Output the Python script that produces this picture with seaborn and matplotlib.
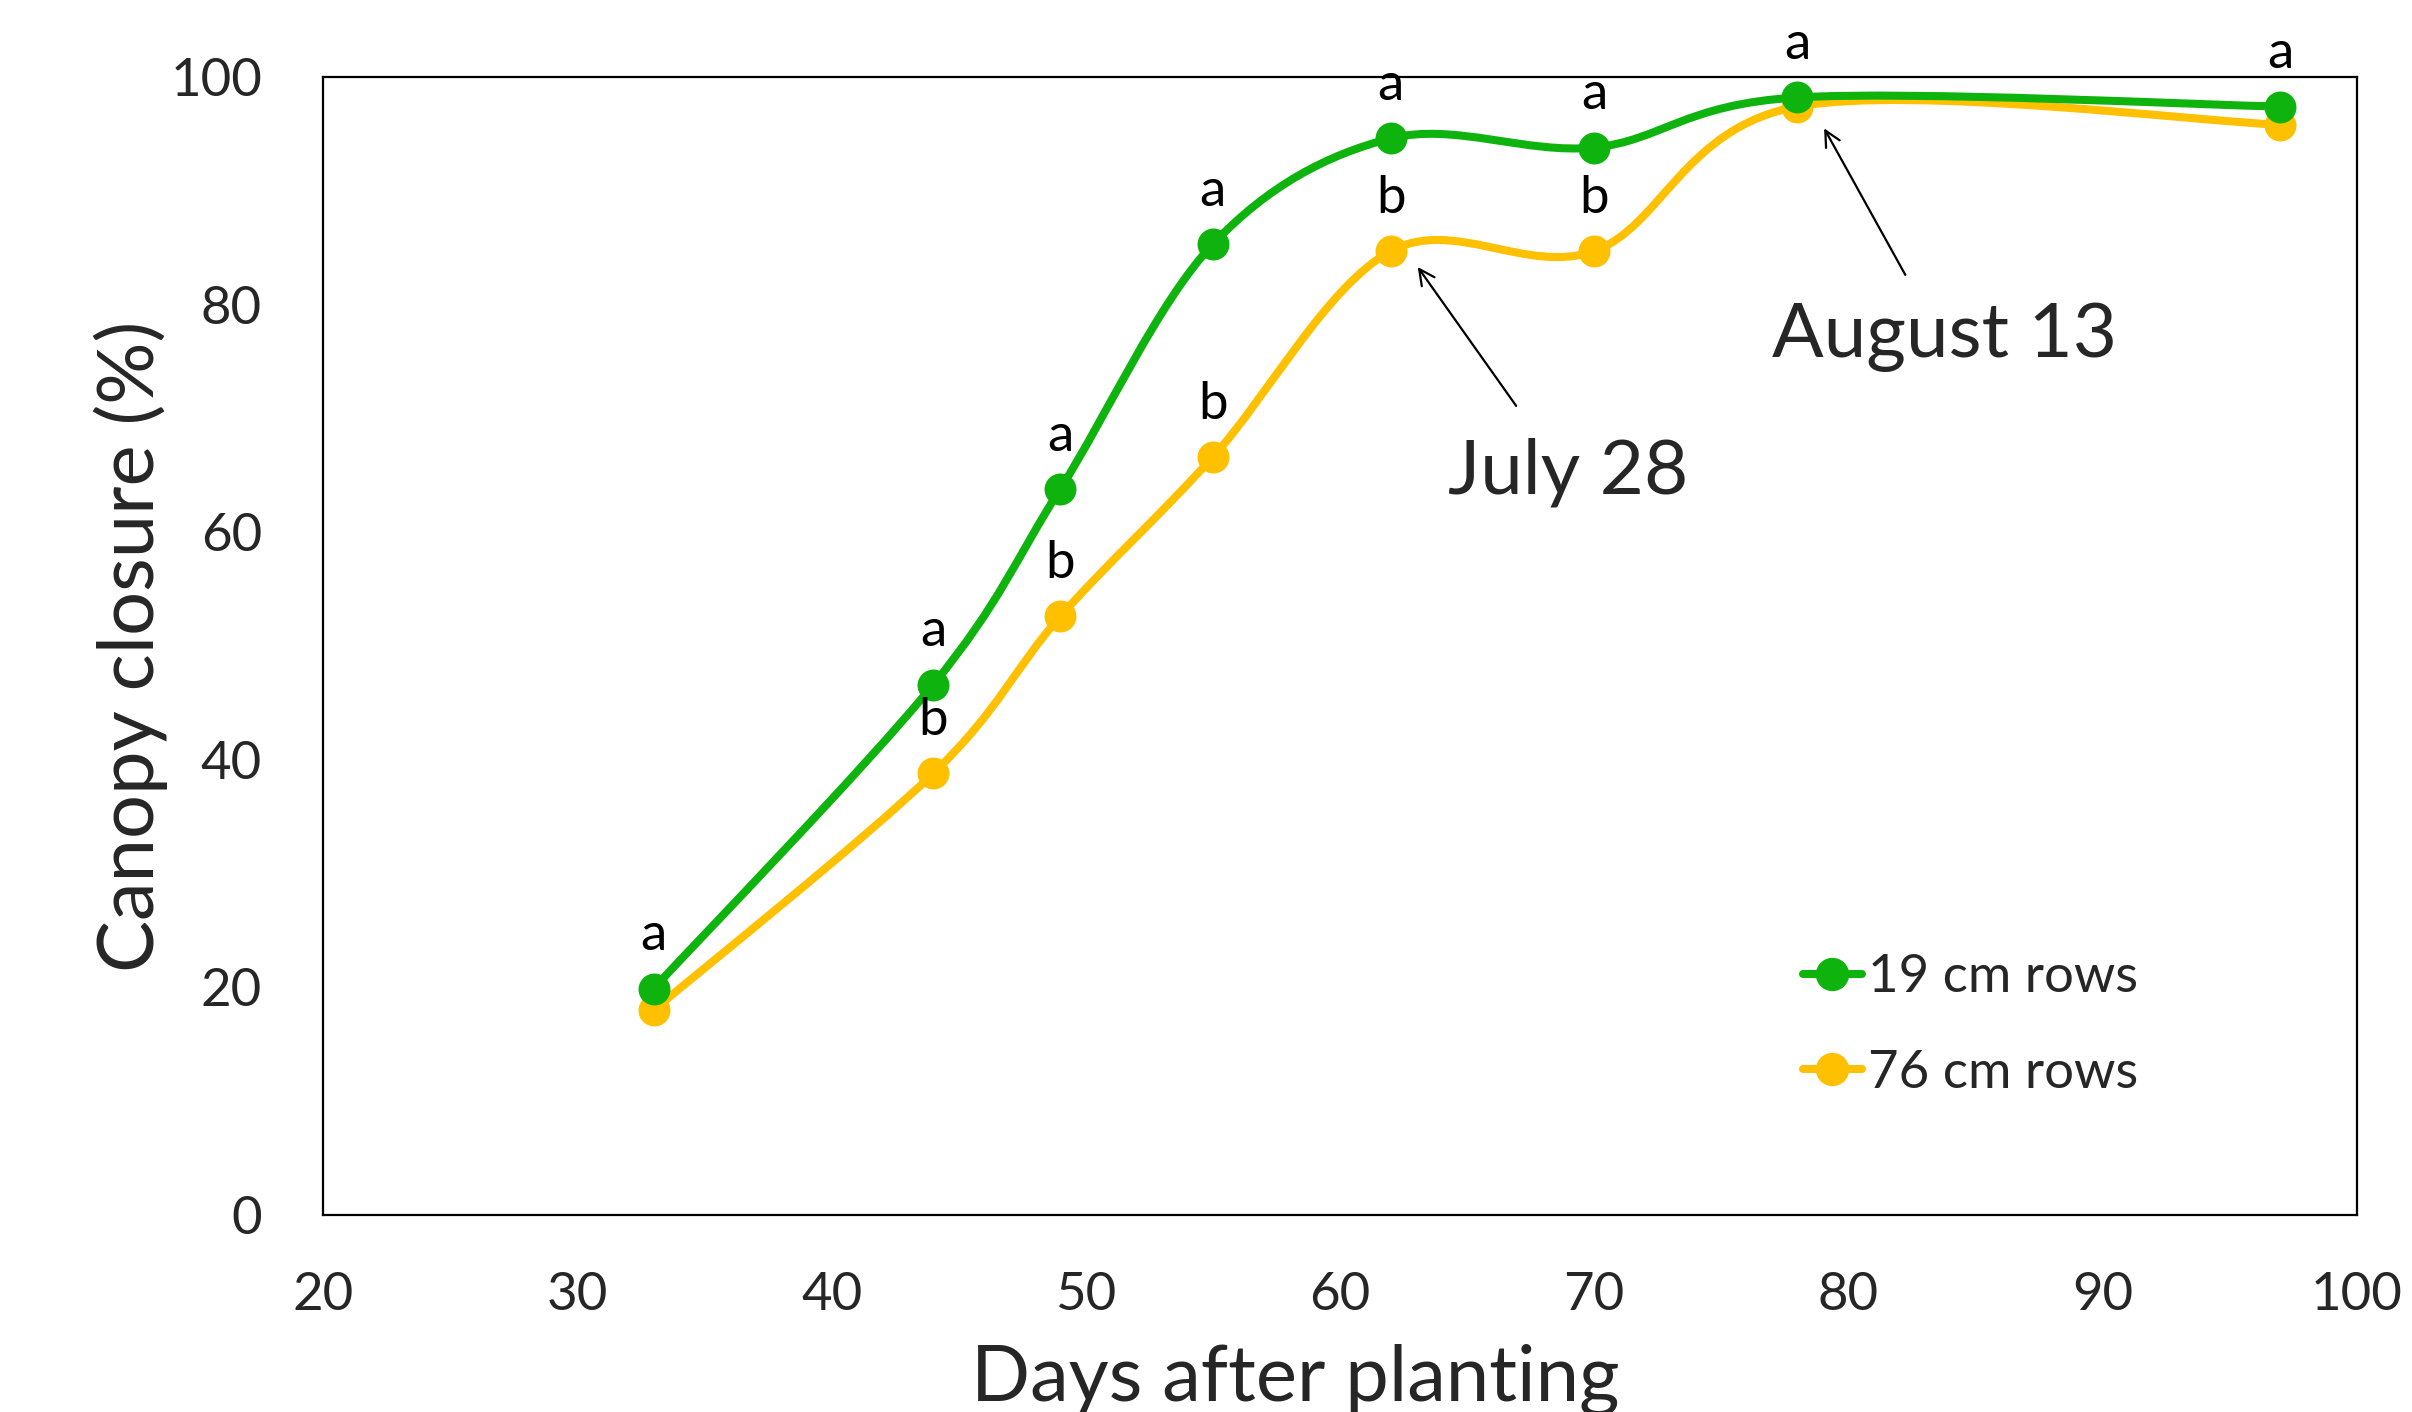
import numpy as np
import matplotlib
matplotlib.use('Agg')
import matplotlib.pyplot as plt
import seaborn as sns
from matplotlib.path import Path
from matplotlib.patches import PathPatch
from matplotlib.lines import Line2D

# ---- data ----
days = [33, 44, 49, 55, 62, 70, 78, 97]
rows19 = [19.9, 46.6, 63.8, 85.3, 94.6, 93.8, 98.2, 97.4]
rows76 = [18.0, 38.8, 52.6, 66.6, 84.7, 84.7, 97.4, 95.8]
letters19 = ['a', 'a', 'a', 'a', 'a', 'a', 'a', 'a']
letters76 = ['', 'b', 'b', 'b', 'b', 'b', '', '']
series_names = ['19 cm rows', '76 cm rows']
xticks = [20, 30, 40, 50, 60, 70, 80, 90, 100]
yticks = [0, 20, 40, 60, 80, 100]
notes = ['July 28', 'August 13']

GREEN = '#0EB30E'
GOLD = '#FFC000'
FONT = ['Lato', 'DejaVu Sans']

sns.set_theme(style='white')
plt.rcParams['font.family'] = FONT

fig = plt.figure(figsize=(24.12, 14.12), dpi=100)
ax = fig.add_axes([0.134, 0.1395, 0.843, 0.806])


def smooth_path(x, y):
    """Excel-style smoothed line (Catmull-Rom as cubic Bezier) in data coords."""
    pts = np.column_stack([x, y]).astype(float)
    n = len(pts)
    verts = [pts[0]]
    codes = [Path.MOVETO]
    for i in range(n - 1):
        p0 = pts[i - 1] if i > 0 else pts[i]
        p1 = pts[i]
        p2 = pts[i + 1]
        p3 = pts[i + 2] if i + 2 < n else pts[i + 1]
        verts += [p1 + (p2 - p0) / 6.0, p2 - (p3 - p1) / 6.0, p2]
        codes += [Path.CURVE4] * 3
    return Path(verts, codes)


LW = 5.8
MS = 23
for vals, col in [(rows76, GOLD), (rows19, GREEN)]:
    ax.add_patch(PathPatch(smooth_path(days, vals), facecolor='none',
                           edgecolor=col, lw=LW, capstyle='round', zorder=2))
    sns.scatterplot(x=days, y=vals, color=col, s=MS ** 2, linewidth=0,
                    ax=ax, zorder=3, legend=False)

# significance letters
for xs, ys, labs in [(days, rows19, letters19), (days, rows76, letters76)]:
    for xv, yv, lab in zip(xs, ys, labs):
        if lab:
            ax.annotate(lab, (xv, yv), xytext=(0, 38), textcoords='offset points',
                        ha='center', va='center', fontsize=38, color='black',
                        annotation_clip=False)

# date callouts
ax.annotate('', xy=(63.0, 83.5), xytext=(67.0, 70.9),
            arrowprops=dict(arrowstyle='->', lw=1.6, color='black', mutation_scale=28))
ax.annotate('', xy=(79.0, 95.7), xytext=(82.3, 82.4),
            arrowprops=dict(arrowstyle='->', lw=1.6, color='black', mutation_scale=28))
ax.text(64.25, 63.4, notes[0], ha='left', va='baseline', fontsize=55)
ax.text(77.0, 75.4, notes[1], ha='left', va='baseline', fontsize=55)

ax.set_xlim(20, 100)
ax.set_ylim(0, 100)
ax.set_xticks(xticks)
ax.set_yticks(yticks)
ax.set_xticklabels([str(t) for t in xticks], fontsize=38)
ax.set_yticklabels([str(t) for t in yticks], fontsize=38)
ax.tick_params(axis='x', length=0, pad=41)
ax.tick_params(axis='y', length=0, pad=44)
for sp in ax.spines.values():
    sp.set_visible(True)
    sp.set_color('black')
    sp.set_linewidth(1.6)
ax.grid(False)

ax.set_xlabel('Days after planting', fontsize=56)
ax.xaxis.set_label_coords(0.478, -0.163)
ax.xaxis.label.set_verticalalignment('baseline')
ax.set_ylabel('Canopy closure (%)', fontsize=56, rotation=90,
              rotation_mode='anchor', ha='center', va='baseline')
ax.yaxis.set_label_coords(-0.083, 0.5)

handles = [Line2D([], [], color=GREEN, lw=LW, marker='o', markersize=MS),
           Line2D([], [], color=GOLD, lw=LW, marker='o', markersize=MS)]
ax.legend(handles, series_names, loc='center left', bbox_to_anchor=(0.7276, 0.1665),
          frameon=False, fontsize=38, handlelength=1.13, handletextpad=0.1,
          labelspacing=0.92, borderpad=0, borderaxespad=0)

fig.savefig('out.png', dpi=100)
